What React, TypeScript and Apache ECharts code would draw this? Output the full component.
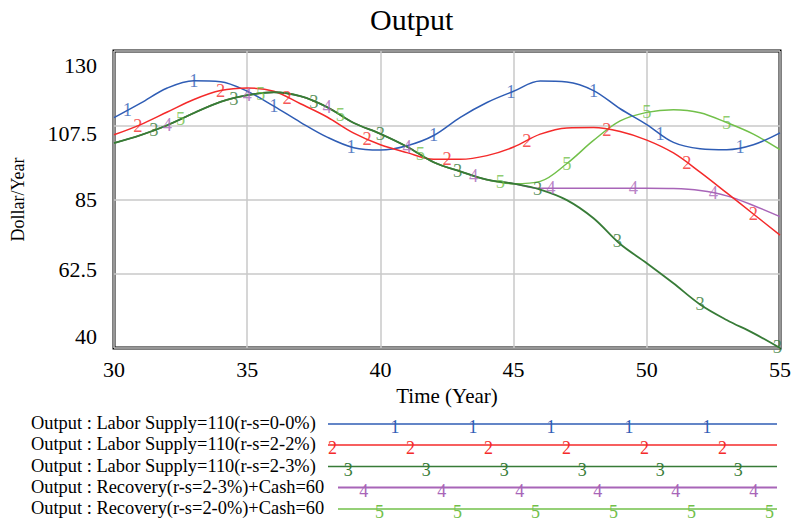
import React, { useEffect, useRef } from "react";
import * as echarts from "echarts";

// ---------------- data ----------------
const TIME = [30, 31, 32, 33, 34, 35, 36, 37, 38, 39, 40, 41, 42, 43, 44, 45, 46, 47, 48, 49, 50, 51, 52, 53, 54, 55];

const S1 = [109.8, 114.2, 118.8, 121.0, 120.7, 117.8, 113.3, 108.4, 103.9, 100.7, 100.0, 101.3, 104.4, 109.9, 114.4, 117.8, 120.9, 120.6, 118.0, 112.5, 107.7, 102.3, 100.4, 100.1, 101.6, 105.2];
const S2 = [104.6, 107.7, 111.5, 115.3, 118.0, 118.8, 117.8, 114.0, 110.0, 105.1, 101.6, 99.2, 97.2, 97.2, 98.3, 100.9, 104.8, 106.7, 106.8, 105.6, 103.0, 99.1, 93.3, 87.0, 80.6, 74.2];
const S3 = [102.1, 104.5, 107.5, 111.2, 114.6, 116.6, 117.5, 116.3, 113.0, 108.2, 104.9, 101.0, 96.3, 93.5, 91.0, 89.8, 88.0, 84.8, 79.3, 71.5, 65.7, 59.6, 53.2, 48.5, 44.5, 40.0];
const S4 = [102.1, 104.5, 107.5, 111.2, 114.6, 116.6, 117.5, 116.3, 113.0, 108.2, 104.9, 101.0, 96.3, 93.5, 91.0, 89.8, 88.4, 88.4, 88.4, 88.4, 88.4, 88.3, 87.7, 86.1, 83.2, 79.8];
const S5 = [102.1, 104.5, 107.5, 111.2, 114.6, 116.6, 117.5, 116.3, 113.0, 108.2, 104.9, 101.0, 96.3, 93.5, 91.0, 89.8, 90.5, 95.9, 102.9, 108.8, 111.4, 112.2, 111.3, 108.3, 104.8, 100.1];

const SERIES_NAMES = [
  "Output : Labor Supply=110(r-s=0-0%)",
  "Output : Labor Supply=110(r-s=2-2%)",
  "Output : Labor Supply=110(r-s=2-3%)",
  "Output : Recovery(r-s=2-3%)+Cash=60",
  "Output : Recovery(r-s=2-0%)+Cash=60",
];

// times at which each run's number marker sits on its curve
const MARK_T1 = [30.5, 33.0, 36.0, 38.9, 42.0, 44.9, 48.0, 50.5, 53.5];
const MARK_T2 = [30.9, 34.0, 36.5, 39.5, 42.5, 45.5, 48.5, 51.5, 54.0];
const MARK_T3 = [31.5, 34.5, 37.5, 40.0, 42.9, 45.9, 48.9, 52.0, 54.9];
const MARK_T4 = [32.0, 35.0, 38.0, 41.0, 43.5, 46.4, 49.5, 52.5];
const MARK_T5 = [32.5, 35.5, 38.5, 41.5, 44.5, 47.0, 50.0, 53.0];

const X_TICKS = [30, 35, 40, 45, 50, 55];
const Y_TICK_LABELS = ["40", "62.5", "85", "107.5", "130"];

const TITLE = "Output";
const X_NAME = "Time (Year)";
const Y_NAME = "Dollar/Year";

// ---------------- style ----------------
const COLORS = ["#2f5db5", "#f42a2a", "#377b37", "#a865b8", "#72c04a"];
const FONT = "'Liberation Serif', 'Times New Roman', serif";

function interp(ts: number[], vs: number[], t: number) {
  if (t <= ts[0]) return vs[0];
  for (let i = 1; i < ts.length; i++) {
    if (t <= ts[i]) {
      const f = (t - ts[i - 1]) / (ts[i] - ts[i - 1]);
      return vs[i - 1] + f * (vs[i] - vs[i - 1]);
    }
  }
  return vs[vs.length - 1];
}

export default function App() {
  const ref = useRef<HTMLDivElement>(null);
  useEffect(() => {
    if (!ref.current) return;
    const chart = echarts.init(ref.current, null, { renderer: "svg", width: 794, height: 525 });
    const allSeries = [S1, S2, S3, S4, S5];
    const marks = [MARK_T1, MARK_T2, MARK_T3, MARK_T4, MARK_T5];

    // y-label vertical shift (pixels, + = down), Vensim style inward placement
    const yShift: Record<string, string> = { "130": "d14", "107.5": "d8", "85": "d0", "62.5": "u4", "40": "u12" };

    const lineSeries: any[] = allSeries.map((s, k) => ({
      type: "line",
      name: SERIES_NAMES[k],
      data: TIME.map((t, i) => [t, s[i]]),
      showSymbol: false,
      smooth: 0.35,
      lineStyle: { color: COLORS[k], width: k === 2 ? 1.8 : 1.5 },
      z: k === 2 ? 4 : 3 - (k > 2 ? 1 : 0),
      silent: true,
    }));

    const markSeries: any[] = allSeries.map((s, k) => ({
      type: "scatter",
      data: marks[k].map((t) => [t, interp(TIME, s, t)]),
      symbol: "circle",
      symbolSize: 1,
      itemStyle: { color: "rgba(0,0,0,0)" },
      label: {
        show: true,
        position: "inside",
        offset: [0, 3],
        formatter: String(k + 1),
        color: COLORS[k],
        fontSize: 18.5,
        fontFamily: FONT,
      },
      labelLayout: { hideOverlap: false },
      z: 6,
      silent: true,
    }));

    // legend drawn as graphic elements
    const graphic: any[] = [];
    const rowY = [424, 445, 466.5, 487.5, 509];
    SERIES_NAMES.forEach((name, k) => {
      const y = rowY[k];
      const x0 = k < 3 ? 328 : 338;
      const x1 = 777;
      graphic.push({
        type: "text",
        left: 31,
        top: y - 10,
        style: { text: name, fontSize: 18.4, fontFamily: FONT, fill: "#000" },
      });
      graphic.push({
        type: "line",
        shape: { x1: x0, y1: y, x2: x1, y2: y },
        style: { stroke: COLORS[k], lineWidth: k === 3 ? 2.2 : 1.7 },
      });
      for (let x = 317 + 15.6 * k; x <= x1; x += 78) {
        if (x < x0) continue;
        graphic.push({
          type: "text",
          x: x,
          y: y + 3,
          style: {
            text: String(k + 1),
            fontSize: 18,
            fontFamily: FONT,
            fill: COLORS[k],
            align: "center",
            verticalAlign: "middle",
          },
        });
      }
    });

    chart.setOption({
      animation: false,
      backgroundColor: "#fff",
      title: {
        text: TITLE,
        left: 370,
        top: 4,
        padding: 0,
        textStyle: { fontSize: 30, fontWeight: "normal", fontFamily: FONT, color: "#000" },
      },
      grid: {
        left: 114,
        right: 12,
        top: 51,
        bottom: 177,
        show: true,
        borderColor: "#000",
        borderWidth: 3,
        backgroundColor: "transparent",
      },
      xAxis: {
        type: "value",
        min: X_TICKS[0],
        max: X_TICKS[X_TICKS.length - 1],
        interval: 5,
        axisLine: { show: false },
        axisTick: { show: false },
        splitLine: { show: true, lineStyle: { color: "#c8c8c8", width: 1.5 } },
        axisLabel: { fontSize: 22, fontFamily: FONT, color: "#000", margin: 10 },
        name: X_NAME,
        nameLocation: "middle",
        nameGap: 37,
        nameTextStyle: { fontSize: 21, fontFamily: FONT, color: "#000" },
      },
      yAxis: {
        type: "value",
        min: 40,
        max: 130,
        interval: 22.5,
        axisLine: { show: false },
        axisTick: { show: false },
        splitLine: { show: true, lineStyle: { color: "#c8c8c8", width: 1.5 } },
        axisLabel: {
          fontSize: 22,
          fontFamily: FONT,
          color: "#000",
          margin: 17,
          showMinLabel: true,
          showMaxLabel: true,
          formatter: (v: number) => {
            const lbl = Y_TICK_LABELS.find((s) => Math.abs(parseFloat(s) - v) < 1e-6) || String(v);
            const key = yShift[lbl] || "d0";
            return `{${key}|${lbl}}`;
          },
          rich: {
            d14: { padding: [28, 0, 0, 0], fontSize: 22, fontFamily: FONT },
            d8: { padding: [16, 0, 0, 0], fontSize: 22, fontFamily: FONT },
            d0: { fontSize: 22, fontFamily: FONT },
            u4: { padding: [0, 0, 8, 0], fontSize: 22, fontFamily: FONT },
            u12: { padding: [0, 0, 24, 0], fontSize: 22, fontFamily: FONT },
          },
        },
        name: Y_NAME,
        nameLocation: "middle",
        nameGap: 87,
        nameTextStyle: { fontSize: 18, fontFamily: FONT, color: "#000" },
      },
      series: [...lineSeries, ...markSeries],
      graphic,
    });
    return () => chart.dispose();
  }, []);
  return <div ref={ref} style={{ width: 794, height: 525, position: "absolute", left: 0, top: 0 }} />;
}
